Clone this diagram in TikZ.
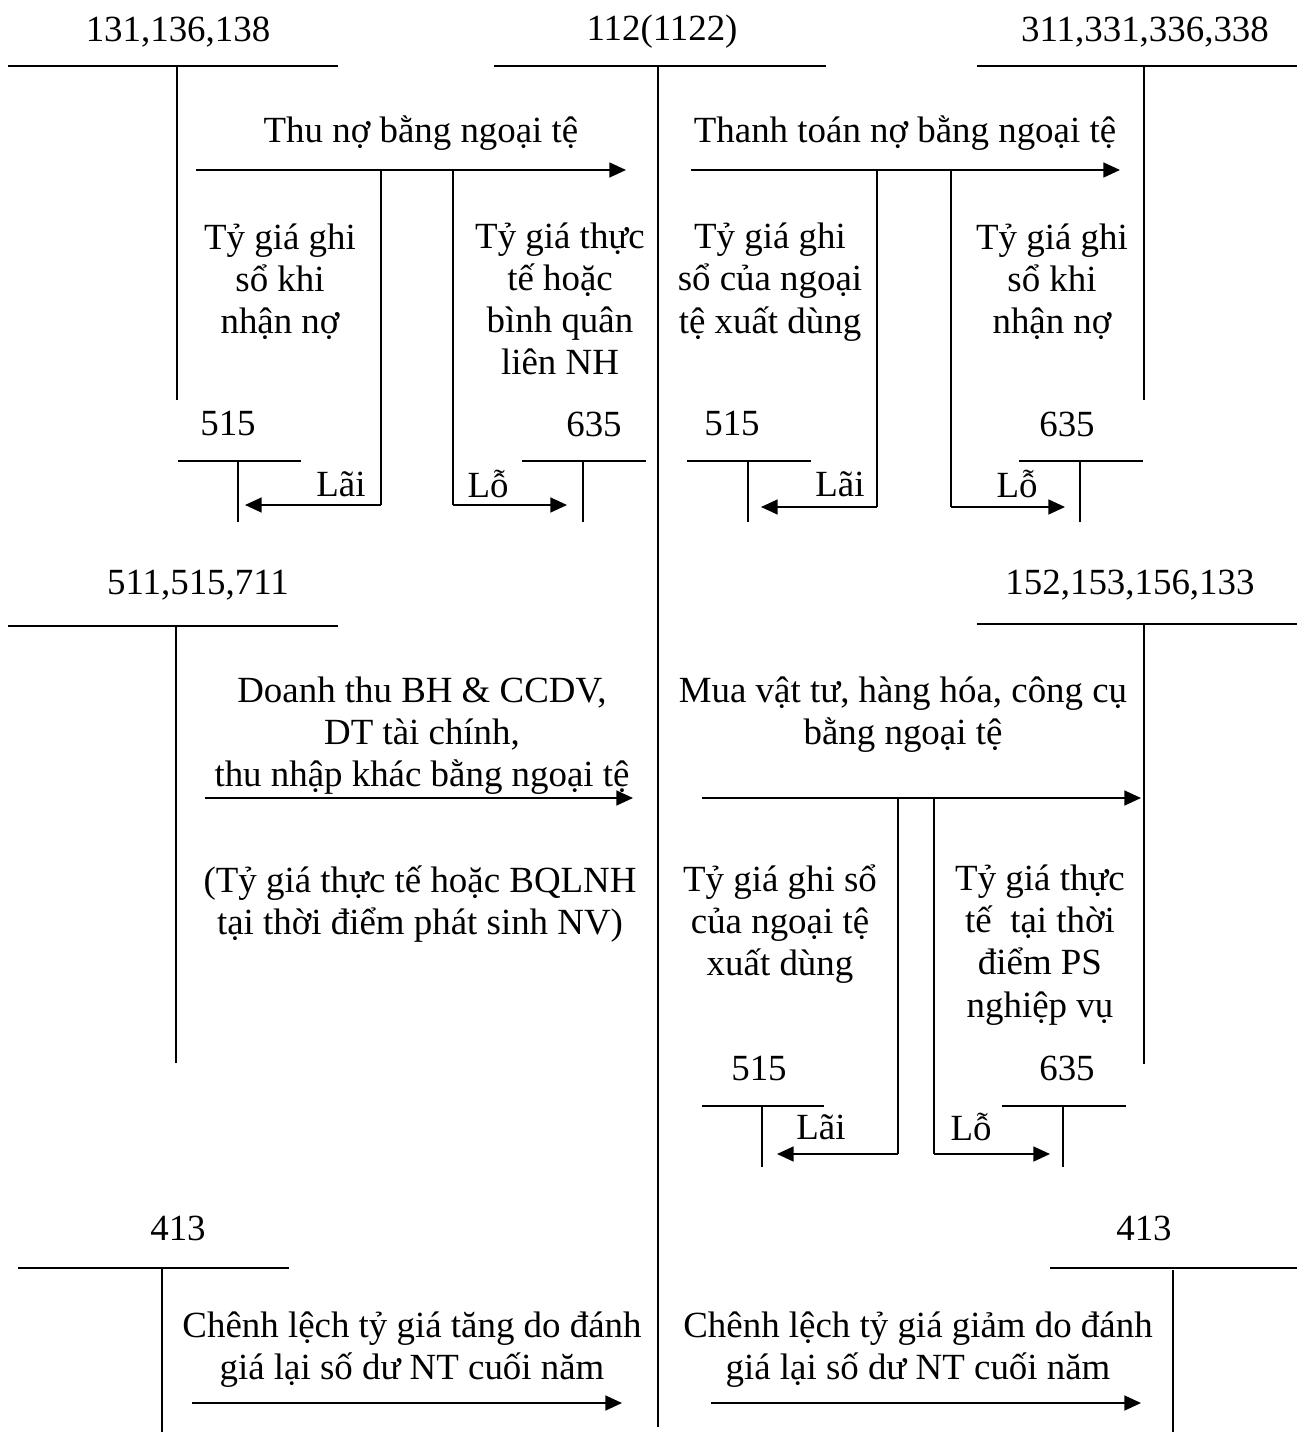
\documentclass[tikz,border=0pt]{standalone}
\usepackage{fontspec}
\setmainfont{Liberation Serif}
\usetikzlibrary{arrows.meta}

\begin{document}
\begin{tikzpicture}[x=0.02cm,y=-0.02cm]
\tikzstyle{acc}=[font=\fontsize{21}{24}\selectfont,inner sep=0pt]
\tikzstyle{txt}=[font=\fontsize{21}{24}\selectfont,align=center,inner sep=0pt]
\tikzstyle{bar}=[draw,line width=1.2pt]
\tikzstyle{stem}=[draw,line width=0.75pt]
\tikzstyle{flow}=[draw,line width=1.1pt,-{Triangle[length=9.5pt,width=8.5pt]}]

\useasboundingbox (0,0) rectangle (1297,1432);

% --- row 1: receivables, bank, payables
\node[acc] (a131) at (178,32) {131,136,138};
\coordinate (a131l) at (8,66);
\coordinate (a131r) at (338,66);
\coordinate (a131t) at (177,66);
\coordinate (a131b) at (177,400);
\path (a131l) edge[bar] (a131r);
\path (a131t) edge[stem] (a131b);

\node[acc] (a112) at (662,32) {112(1122)};
\coordinate (a112l) at (494,66);
\coordinate (a112r) at (826,66);
\coordinate (a112t) at (658,66);
\coordinate (a112b) at (658,1427);
\path (a112l) edge[bar] (a112r);
\path (a112t) edge[stem] (a112b);

\node[acc] (a311) at (1145,32) {311,331,336,338};
\coordinate (a311l) at (977,66);
\coordinate (a311r) at (1297,66);
\coordinate (a311t) at (1144,66);
\coordinate (a311b) at (1144,400);
\path (a311l) edge[bar] (a311r);
\path (a311t) edge[stem] (a311b);

% collection of debts
\node[txt] (thu) at (421,133) {Thu nợ bằng ngoại tệ};
\coordinate (thus) at (196,170);
\coordinate (thue) at (626,170);
\path (thus) edge[flow] (thue);

\coordinate (lai1t) at (381,170);
\coordinate (lai1c) at (381,505);
\coordinate (lai1e) at (245,505);
\path (lai1t) edge[stem] (lai1c);
\path (lai1c) edge[flow] (lai1e);
\coordinate (lo1t) at (453,170);
\coordinate (lo1c) at (453,505);
\coordinate (lo1e) at (567,505);
\path (lo1t) edge[stem] (lo1c);
\path (lo1c) edge[flow] (lo1e);

\node[txt] (ty1) at (280,282) {Tỷ giá ghi\\sổ khi\\nhận nợ};
\node[txt] (ty2) at (560,299) {Tỷ giá thực\\tế hoặc\\bình quân\\liên NH};

\node[acc] (k515a) at (228,424) {515};
\coordinate (k515al) at (178,461);
\coordinate (k515ar) at (301,461);
\coordinate (k515at) at (238,461);
\coordinate (k515ab) at (238,522);
\path (k515al) edge[bar] (k515ar);
\path (k515at) edge[stem] (k515ab);
\node[acc] (lai1) at (341,484) {Lãi};

\node[acc] (k635a) at (594,424) {635};
\coordinate (k635al) at (522,461);
\coordinate (k635ar) at (646,461);
\coordinate (k635at) at (583,461);
\coordinate (k635ab) at (583,522);
\path (k635al) edge[bar] (k635ar);
\path (k635at) edge[stem] (k635ab);
\node[acc] (lo1) at (488,484) {Lỗ};

% payment of debts
\node[txt] (tt) at (905,133) {Thanh toán nợ bằng ngoại tệ};
\coordinate (tts) at (691,170);
\coordinate (tte) at (1120,170);
\path (tts) edge[flow] (tte);

\coordinate (lai2t) at (877,170);
\coordinate (lai2c) at (877,507);
\coordinate (lai2e) at (761,507);
\path (lai2t) edge[stem] (lai2c);
\path (lai2c) edge[flow] (lai2e);
\coordinate (lo2t) at (951,170);
\coordinate (lo2c) at (951,507);
\coordinate (lo2e) at (1065,507);
\path (lo2t) edge[stem] (lo2c);
\path (lo2c) edge[flow] (lo2e);

\node[txt] (ty3) at (770,282) {Tỷ giá ghi\\sổ của ngoại\\tệ xuất dùng};
\node[txt] (ty4) at (1052,282) {Tỷ giá ghi\\sổ khi\\nhận nợ};

\node[acc] (k515b) at (732,424) {515};
\coordinate (k515bl) at (687,461);
\coordinate (k515br) at (811,461);
\coordinate (k515bt) at (748,461);
\coordinate (k515bb) at (748,522);
\path (k515bl) edge[bar] (k515br);
\path (k515bt) edge[stem] (k515bb);
\node[acc] (lai2) at (840,484) {Lãi};

\node[acc] (k635b) at (1067,424) {635};
\coordinate (k635bl) at (1019,461);
\coordinate (k635br) at (1143,461);
\coordinate (k635bt) at (1080,461);
\coordinate (k635bb) at (1080,522);
\path (k635bl) edge[bar] (k635br);
\path (k635bt) edge[stem] (k635bb);
\node[acc] (lo2) at (1017,484) {Lỗ};

% --- row 2: revenue and purchases
\node[acc] (a511) at (198,585) {511,515,711};
\coordinate (a511l) at (8,626);
\coordinate (a511r) at (338,626);
\coordinate (a511t) at (176,626);
\coordinate (a511b) at (176,1063);
\path (a511l) edge[bar] (a511r);
\path (a511t) edge[stem] (a511b);

\node[txt] (dt) at (422,736) {Doanh thu BH \& CCDV,\\DT tài chính,\\thu nhập khác bằng ngoại tệ};
\coordinate (dts) at (205,798);
\coordinate (dte) at (633,798);
\path (dts) edge[flow] (dte);
\node[txt] (tg) at (420,904) {(Tỷ giá thực tế hoặc BQLNH\\tại thời điểm phát sinh NV)};

\node[acc] (a152) at (1130,585) {152,153,156,133};
\coordinate (a152l) at (977,624);
\coordinate (a152r) at (1297,624);
\coordinate (a152t) at (1144,624);
\coordinate (a152b) at (1144,1064);
\path (a152l) edge[bar] (a152r);
\path (a152t) edge[stem] (a152b);

\node[txt] (mua) at (903,715) {Mua vật tư, hàng hóa, công cụ\\bằng ngoại tệ};
\coordinate (muas) at (702,798);
\coordinate (muae) at (1141,798);
\path (muas) edge[flow] (muae);

\coordinate (lai3t) at (898,798);
\coordinate (lai3c) at (898,1154);
\coordinate (lai3e) at (777,1154);
\path (lai3t) edge[stem] (lai3c);
\path (lai3c) edge[flow] (lai3e);
\coordinate (lo3t) at (934,798);
\coordinate (lo3c) at (934,1154);
\coordinate (lo3e) at (1050,1154);
\path (lo3t) edge[stem] (lo3c);
\path (lo3c) edge[flow] (lo3e);

\node[txt] (ty5) at (780,924) {Tỷ giá ghi sổ\\của ngoại tệ\\xuất dùng};
\node[txt] (ty6) at (1040,945) {Tỷ giá thực\\tế \ tại thời\\điểm PS\\nghiệp vụ};

\node[acc] (k515c) at (759,1068) {515};
\coordinate (k515cl) at (702,1106);
\coordinate (k515cr) at (824,1106);
\coordinate (k515ct) at (762,1106);
\coordinate (k515cb) at (762,1167);
\path (k515cl) edge[bar] (k515cr);
\path (k515ct) edge[stem] (k515cb);
\node[acc] (lai3) at (821,1127) {Lãi};

\node[acc] (k635c) at (1067,1068) {635};
\coordinate (k635cl) at (1002,1106);
\coordinate (k635cr) at (1126,1106);
\coordinate (k635ct) at (1063,1106);
\coordinate (k635cb) at (1063,1167);
\path (k635cl) edge[bar] (k635cr);
\path (k635ct) edge[stem] (k635cb);
\node[acc] (lo3) at (971,1127) {Lỗ};

% --- row 3: revaluation at year end
\node[acc] (a413a) at (178,1228) {413};
\coordinate (a413al) at (18,1268);
\coordinate (a413ar) at (289,1268);
\coordinate (a413at) at (162,1268);
\coordinate (a413ab) at (162,1432);
\path (a413al) edge[bar] (a413ar);
\path (a413at) edge[stem] (a413ab);

\node[acc] (a413b) at (1144,1228) {413};
\coordinate (a413bl) at (1050,1268);
\coordinate (a413br) at (1297,1268);
\coordinate (a413bt) at (1173,1270);
\coordinate (a413bb) at (1173,1432);
\path (a413bl) edge[bar] (a413br);
\path (a413bt) edge[stem] (a413bb);

\node[txt] (cl1) at (412,1350) {Chênh lệch tỷ giá tăng do đánh\\giá lại số dư NT cuối năm};
\coordinate (cl1s) at (192,1403);
\coordinate (cl1e) at (622,1403);
\path (cl1s) edge[flow] (cl1e);

\node[txt] (cl2) at (918,1350) {Chênh lệch tỷ giá giảm do đánh\\giá lại số dư NT cuối năm};
\coordinate (cl2s) at (711,1403);
\coordinate (cl2e) at (1141,1403);
\path (cl2s) edge[flow] (cl2e);
\end{tikzpicture}
\end{document}
